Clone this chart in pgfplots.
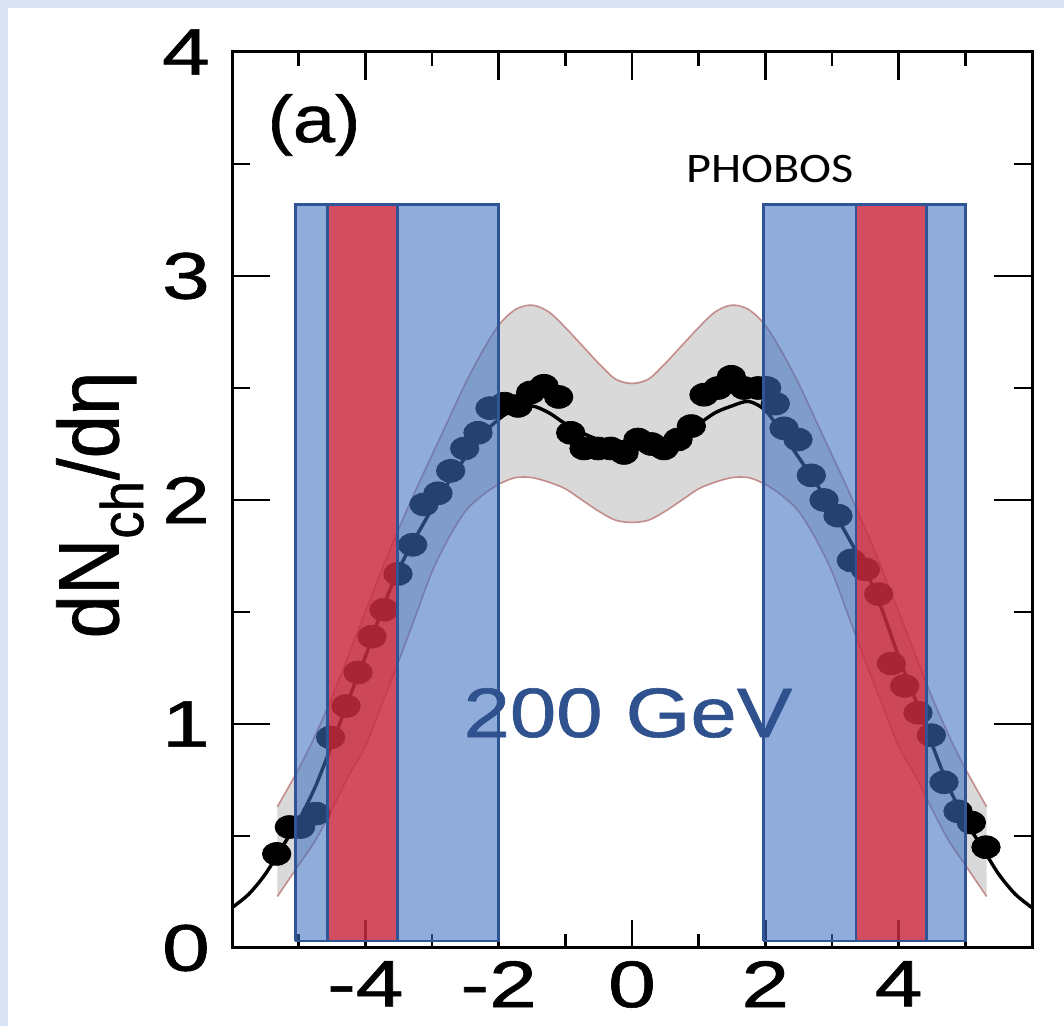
\documentclass[border=0pt]{standalone}
\usepackage{fontspec}
\setmainfont{Liberation Sans}
\newfontfamily\heavy{Liberation Sans}[FakeBold=0.8]
\newfontfamily\calibri{Carlito}
\usepackage{pgfplots}
\pgfplotsset{compat=1.18}
\definecolor{bgblue}{RGB}{218,227,243}
\definecolor{bandgray}{RGB}{217,217,217}
\definecolor{bandedge}{RGB}{196,140,140}
\definecolor{boxblue}{RGB}{64,113,193}
\definecolor{boxred}{RGB}{250,20,20}
\definecolor{boxedge}{RGB}{47,85,151}
\definecolor{gevblue}{RGB}{47,82,143}
\begin{document}
\begin{tikzpicture}
\fill[bgblue] (0,0) rectangle (532pt,513pt);
\fill[white] (4pt,0) rectangle (532pt,509pt);
\begin{axis}[
 at={(116pt,39pt)}, anchor=south west, scale only axis,
 width=400pt, height=448pt,
 xmin=-6, xmax=6, ymin=0, ymax=4,
 xtick={-4,-2,0,2,4}, xticklabels={-4,-2,0,2,4},
 minor xtick={-5,-3,-1,1,3,5},
 ytick={0,1,2,3,4}, yticklabels={0,1,2,3,4},
 minor ytick={0.5,1.5,2.5,3.5},
 tick align=inside,
 major tick length=16pt, minor tick length=8pt,
 xtick style={/pgfplots/major tick length=14pt, /pgfplots/minor tick length=7pt},
 ytick style={/pgfplots/major tick length=19pt, /pgfplots/minor tick length=9pt},
 axis line style={line width=1.5pt},
 every tick/.append style={black, line width=1.2pt},
 ticklabel style={font=\heavy\fontsize{33}{40}\selectfont, xscale=1.3},
 xticklabel style={yshift=-3pt},
 yticklabel style={xshift=-5pt},
 clip marker paths=true,
]
% uncertainty band (upper edge left to right, lower edge right to left)
\addplot[fill=bandgray, draw=none] coordinates {
(-5.32,0.63) (-5.0,0.80) (-4.75,0.95) (-4.5,1.12) (-4.25,1.31) (-4.0,1.50) (-3.75,1.69) (-3.5,1.87)
(-3.25,2.04) (-3.0,2.20) (-2.75,2.36) (-2.5,2.52) (-2.25,2.66) (-2.0,2.78) (-1.75,2.85) (-1.5,2.87)
(-1.25,2.84) (-1.0,2.77) (-0.75,2.69) (-0.5,2.61) (-0.25,2.54) (0,2.52)
(0.25,2.54) (0.5,2.61) (0.75,2.69) (1.0,2.77) (1.25,2.84) (1.5,2.87) (1.75,2.85) (2.0,2.78)
(2.25,2.66) (2.5,2.52) (2.75,2.36) (3.0,2.20) (3.25,2.04) (3.5,1.87) (3.75,1.69) (4.0,1.50)
(4.25,1.31) (4.5,1.12) (4.75,0.95) (5.0,0.80) (5.32,0.63)
(5.32,0.23) (5.0,0.37) (4.75,0.48) (4.5,0.62) (4.25,0.77) (4.0,0.90) (3.75,1.09) (3.5,1.28)
(3.25,1.48) (3.0,1.68) (2.75,1.83) (2.5,1.95) (2.25,2.02) (2.0,2.07) (1.75,2.10) (1.5,2.10)
(1.25,2.08) (1.0,2.05) (0.75,2.00) (0.5,1.95) (0.25,1.91) (0,1.90)
(-0.25,1.91) (-0.5,1.95) (-0.75,2.00) (-1.0,2.05) (-1.25,2.08) (-1.5,2.10) (-1.75,2.10) (-2.0,2.07)
(-2.25,2.02) (-2.5,1.95) (-2.75,1.83) (-3.0,1.68) (-3.25,1.48) (-3.5,1.28) (-3.75,1.09) (-4.0,0.90)
(-4.25,0.77) (-4.5,0.62) (-4.75,0.48) (-5.0,0.37) (-5.32,0.23) (-5.32,0.63)};
\addplot[draw=bandedge, line width=0.8pt, smooth, no marks] coordinates {
(-5.32,0.63) (-5.0,0.80) (-4.75,0.95) (-4.5,1.12) (-4.25,1.31) (-4.0,1.50) (-3.75,1.69) (-3.5,1.87)
(-3.25,2.04) (-3.0,2.20) (-2.75,2.36) (-2.5,2.52) (-2.25,2.66) (-2.0,2.78) (-1.75,2.85) (-1.5,2.87)
(-1.25,2.84) (-1.0,2.77) (-0.75,2.69) (-0.5,2.61) (-0.25,2.54) (0,2.52)
(0.25,2.54) (0.5,2.61) (0.75,2.69) (1.0,2.77) (1.25,2.84) (1.5,2.87) (1.75,2.85) (2.0,2.78)
(2.25,2.66) (2.5,2.52) (2.75,2.36) (3.0,2.20) (3.25,2.04) (3.5,1.87) (3.75,1.69) (4.0,1.50)
(4.25,1.31) (4.5,1.12) (4.75,0.95) (5.0,0.80) (5.32,0.63)};
\addplot[draw=bandedge, line width=0.8pt, smooth, no marks] coordinates {
(-5.32,0.23) (-5.0,0.37) (-4.75,0.48) (-4.5,0.62) (-4.25,0.77) (-4.0,0.90) (-3.75,1.09) (-3.5,1.28)
(-3.25,1.48) (-3.0,1.68) (-2.75,1.83) (-2.5,1.95) (-2.25,2.02) (-2.0,2.07) (-1.75,2.10) (-1.5,2.10)
(-1.25,2.08) (-1.0,2.05) (-0.75,2.00) (-0.5,1.95) (-0.25,1.91) (0,1.90)
(0.25,1.91) (0.5,1.95) (0.75,2.00) (1.0,2.05) (1.25,2.08) (1.5,2.10) (1.75,2.10) (2.0,2.07)
(2.25,2.02) (2.5,1.95) (2.75,1.83) (3.0,1.68) (3.25,1.48) (3.5,1.28) (3.75,1.09) (4.0,0.90)
(4.25,0.77) (4.5,0.62) (4.75,0.48) (5.0,0.37) (5.32,0.23)};
% fit curve
\addplot[black, line width=1.7pt, smooth, no marks] coordinates {
(-6,0.18) (-5.75,0.24) (-5.5,0.33) (-5.25,0.45) (-5.0,0.57) (-4.75,0.72) (-4.5,0.91) (-4.25,1.11)
(-4.0,1.30) (-3.75,1.51) (-3.5,1.69) (-3.25,1.83) (-3.0,1.96) (-2.75,2.08) (-2.5,2.19) (-2.25,2.29)
(-2.0,2.36) (-1.75,2.41) (-1.5,2.42) (-1.25,2.39) (-1.0,2.34) (-0.75,2.30) (-0.5,2.27) (-0.25,2.26)
(0,2.26) (0.25,2.26) (0.5,2.27) (0.75,2.30) (1.0,2.34) (1.25,2.39) (1.5,2.42) (1.75,2.44)
(2.0,2.40) (2.25,2.30) (2.5,2.19) (2.75,2.08) (3.0,1.96) (3.25,1.83) (3.5,1.69) (3.75,1.51)
(4.0,1.30) (4.25,1.11) (4.5,0.91) (4.75,0.72) (5.0,0.57) (5.25,0.45) (5.5,0.33) (5.75,0.24) (6,0.18)};
% data points
\addplot[only marks, mark=*, mark size=5.7pt, mark options={xscale=1.25, fill=black, draw=black}] coordinates {
(-5.33,0.42) (-5.14,0.54) (-4.97,0.54) (-4.74,0.60) (-4.52,0.94) (-4.29,1.08) (-4.11,1.23) (-3.90,1.39)
(-3.72,1.51) (-3.51,1.67) (-3.29,1.80) (-3.12,1.98) (-2.91,2.03) (-2.72,2.13) (-2.51,2.23) (-2.31,2.30)
(-2.13,2.41) (-1.91,2.43) (-1.71,2.42) (-1.52,2.48) (-1.32,2.51) (-1.10,2.46) (-0.92,2.30) (-0.72,2.23)
(-0.51,2.23) (-0.32,2.23) (-0.12,2.21) (0.09,2.27) (0.29,2.25) (0.48,2.23) (0.69,2.27) (0.89,2.33)
(1.08,2.47) (1.29,2.50) (1.49,2.55) (1.68,2.50) (1.89,2.50) (2.02,2.50) (2.15,2.43) (2.28,2.32)
(2.49,2.27) (2.69,2.11) (2.88,2.00) (3.09,1.93) (3.29,1.73) (3.50,1.69) (3.70,1.58) (3.89,1.27)
(4.09,1.17) (4.29,1.05) (4.49,0.95) (4.68,0.74) (4.89,0.61) (5.09,0.56) (5.31,0.45)};
% blue boxes
\addplot[fill=boxblue, fill opacity=0.58, draw=none] coordinates {(-5.05,0.03) (-2.0,0.03) (-2.0,3.32) (-5.05,3.32) (-5.05,0.03)};
\addplot[fill=boxblue, fill opacity=0.58, draw=none] coordinates {(1.97,0.03) (5.0,0.03) (5.0,3.32) (1.97,3.32) (1.97,0.03)};
% red boxes
\addplot[fill=boxred, fill opacity=0.62, draw=none] coordinates {(-4.57,0.03) (-3.52,0.03) (-3.52,3.32) (-4.57,3.32) (-4.57,0.03)};
\addplot[fill=boxred, fill opacity=0.62, draw=none] coordinates {(3.36,0.03) (4.42,0.03) (4.42,3.32) (3.36,3.32) (3.36,0.03)};
% box outlines
\addplot[draw=boxedge, line width=1.2pt] coordinates {(-5.05,0.03) (-2.0,0.03) (-2.0,3.32) (-5.05,3.32) (-5.05,0.03)};
\addplot[draw=boxedge, line width=1.2pt] coordinates {(1.97,0.03) (5.0,0.03) (5.0,3.32) (1.97,3.32) (1.97,0.03)};
\addplot[draw=boxedge, line width=1.2pt] coordinates {(-4.57,0.03) (-4.57,3.32)};
\addplot[draw=boxedge, line width=1.2pt] coordinates {(-3.52,0.03) (-3.52,3.32)};
\addplot[draw=boxedge, line width=1.2pt] coordinates {(3.36,0.03) (3.36,3.32)};
\addplot[draw=boxedge, line width=1.2pt] coordinates {(4.42,0.03) (4.42,3.32)};
\end{axis}
\node[font=\heavy\fontsize{33}{40}\selectfont, xscale=1.15] at (157pt,450.5pt) {(a)};
\node[font=\calibri\fontsize{21}{25}\selectfont, xscale=1.15] at (385pt,428.5pt) {PHOBOS};
\node[font=\heavy\fontsize{35}{42}\selectfont, text=gevblue, xscale=1.19] at (314pt,156.5pt) {200 GeV};
\node[font=\heavy\fontsize{39}{46}\selectfont, xscale=1.1, rotate=90] at (50pt,260.5pt) {dN\textsubscript{ch}/dη};
\end{tikzpicture}
\end{document}
